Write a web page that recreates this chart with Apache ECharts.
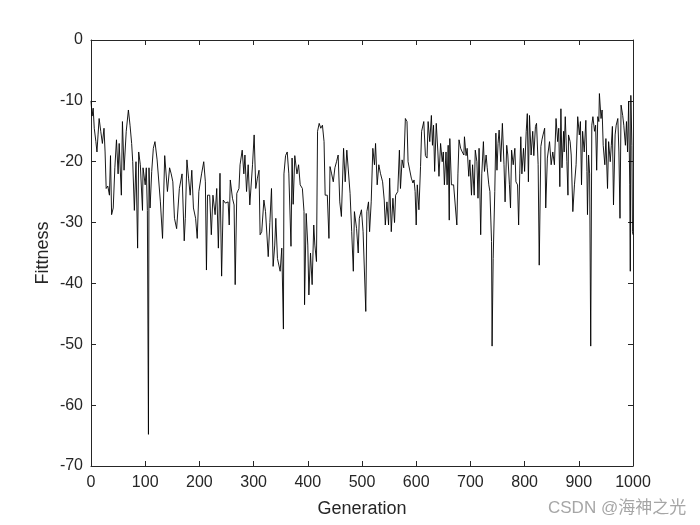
<!DOCTYPE html>
<html>
<head>
<meta charset="utf-8">
<script src="https://cdn.jsdelivr.net/npm/echarts@6/dist/echarts.min.js"></script>
<style>html,body{margin:0;padding:0;background:#fff;}#c{width:700px;height:525px;}</style>
</head>
<body>
<div id="c"></div>
<script>
var generation = [
0,2,4,6,9,11,13,15,18,21,24,26,28,31,34,36,38,41,44,47,50,52,56,58,61,65,69,72,75,77,80,83,86,88,91,95,96,100,102,104,106,107,109,112,115,118,122,125,128,132,136,139,141,145,148,151,154,158,163,
168,172,174,177,180,183,186,189,193,196,199,204,208,211,213,215,219,222,225,229,232,235,238,241,244,248,253,255,257,261,264,266,269,273,275,279,282,284,287,290,293,296,298,301,304,307,310,312,315,319,322,327,330,333,
336,339,341,344,349,352,355,356,359,362,365,369,371,373,376,380,383,386,390,393,394,397,400,402,405,408,411,413,416,418,421,424,427,430,432,436,439,441,444,447,450,453,456,459,462,466,469,472,475,478,481,484,486,490,493,495,499,
502,507,509,512,514,517,520,523,525,528,531,534,538,541,543,546,549,551,554,557,560,562,566,569,571,574,577,580,583,585,588,591,594,596,598,600,602,605,608,610,614,617,620,622,625,628,630,632,634,637,640,642,645,648,650,652,655,657,659,661,662,665,669,672,
675,677,679,682,685,688,689,692,694,697,699,702,704,707,709,712,714,716,719,721,724,726,729,731,734,736,739,740,742,745,747,749,751,753,756,759,762,764,767,769,772,774,776,779,782,784,787,789,791,793,795,798,800,803,805,807,809,812,815,817,820,822,825,827,830,832,834,837,839,842,
846,849,852,855,858,861,863,865,867,869,872,873,875,878,880,881,884,886,889,892,895,898,901,903,905,907,910,913,915,916,918,920,922,924,926,929,931,933,935,937,938,941,943,945,948,950,953,955,958,960,962,964,967,969,972,974,976,978,981,983,986,988,990,992,994,995,996,998,999,1000
];
var fitness = [
-10,-12.5,-11.2,-14.5,-16.7,-18.4,-15.6,-12.9,-15,-17,-14.5,-18.4,-24.4,-24,-25.5,-19,-28.7,-27.6,-21,-16.4,-22,-17,-25.5,-13.4,-21.4,-15,-11.5,-14,-17,-20,-28,-20,-34.2,-18.4,-20.5,-28,-21,-23.8,-21,-28,-64.8,-21,-27.6,-21.6,-17.8,-16.7,-19.7,-20,-26.6,-32.6,-19,-19,-24.9,-21,-22,-23.3,-29.3,-31,-24.4,
-22,-33,-29.3,-19.7,-22.7,-25.5,-21.4,-27.6,-29.3,-32.6,-24.9,-22,-20,-23.3,-37.8,-25.5,-25.5,-32,-25.5,-28.7,-24.4,-34.2,-21.9,-38.8,-26.3,-26.8,-26.6,-30.4,-23,-26,-27.1,-40.2,-25.2,-24.4,-20.5,-18.1,-22,-18.9,-24.9,-20.5,-27.1,-27.4,-20.5,-15.6,-24.4,-22.7,-21.4,-32,-31.5,-26.3,-28.2,-35.6,-30,-24.4,
-37.2,-33.7,-29.3,-35.9,-38,-34.2,-47.5,-22,-19,-18.4,-22,-33.9,-19.4,-27,-19,-22,-20.5,-23.8,-24.4,-28.2,-43.5,-28.5,-33.7,-41.9,-35,-40.2,-30.4,-33.7,-36.4,-15,-13.7,-14.5,-14,-16.7,-25.5,-25.5,-32.6,-20.8,-22,-23.3,-21,-20,-18.9,-26.6,-29,-17.8,-23.3,-18.1,-18.4,-25.2,-31.5,-38,-28.2,-31,-35,-29.3,-27.9,
-31.5,-44.6,-28.2,-26.6,-31.5,-26.6,-17.8,-20.5,-17,-23.8,-20.5,-21.9,-23.3,-26.3,-30.4,-26.6,-30.4,-22.7,-31.5,-26,-30,-25.5,-24.9,-18.1,-24.4,-19.7,-21,-12.9,-13.4,-20,-19.7,-22.7,-23.5,-23,-24.9,-30.4,-23.8,-27.9,-20.8,-15,-13.4,-19,-19.4,-13.4,-16.7,-12.4,-17.3,-14,-21.6,-13.7,-18.4,-22.4,-17,-20,-18.4,-23.8,-18.4,-23.8,-17.3,-29.6,-16.2,-23.8,-23.8,-24.1,
-30.4,-22,-16.4,-17.8,-18.4,-18.9,-15.9,-19,-17.8,-22.4,-19.7,-25.5,-20.5,-25.5,-18.1,-20,-26,-17.8,-32,-22,-16.7,-21.6,-18.9,-21,-23.8,-24.9,-33.1,-50.3,-35.9,-24.9,-15.3,-21.4,-17,-14.8,-20,-13.7,-20.5,-26.6,-17.3,-18.9,-23.8,-27.6,-18.1,-20.5,-17.8,-23.3,-23.8,-30.4,-22,-15.9,-22,-17.8,-21.6,-15,-12.1,-23.3,-12.4,-18.9,-15,-19,-14.2,-13.7,-20.5,-37,-17.5,-16.4,-15.6,-14.5,-27.6,-19.4,
-16.7,-20.5,-18.4,-20.5,-12.9,-16.7,-14.5,-24.1,-11.3,-21,-15,-18.4,-12.6,-20,-25.5,-15.6,-16.7,-18.9,-28.2,-23.8,-20.5,-12.6,-15.6,-13.4,-23.8,-15,-18.4,-13.2,-21.6,-28.7,-18.9,-22,-50.3,-14,-12.6,-15,-14,-21.4,-12.6,-13.4,-8.8,-12.9,-11.5,-17.3,-20.5,-16.2,-24.4,-16.7,-20,-17.3,-14.2,-27.1,-15.6,-14,-12.9,-18.4,-29.3,-10.7,-12.4,-14,-17.3,-13.4,-18.4,-10.1,-23.8,-38,-9.1,-17.3,-31.5,-32
];
var xTicks = {min: 0, max: 1000, step: 100};
var yTicks = {min: -70, max: 0, step: 10};
var xLabel = 'Generation';
var yLabel = 'Fittness';
var watermark = 'CSDN @海神之光';

var FONT = "'Liberation Sans', Arial, Helvetica, sans-serif";
var AX = '#262626';
var pts = generation.map(function (g, i) { return [g, fitness[i]]; });
function plain(v) { return String(v); }

function boxAxis(extra) {
  var base = {
    type: 'value',
    axisLine: {show: true, onZero: false, lineStyle: {color: AX, width: 1}},
    axisTick: {show: true, inside: true, length: 5, lineStyle: {color: AX, width: 1}},
    splitLine: {show: false},
    axisLabel: {show: false}
  };
  for (var k in extra) base[k] = extra[k];
  return base;
}

var chart = echarts.init(document.getElementById('c'), null, {renderer: 'canvas'});
chart.setOption({
  animation: false,
  backgroundColor: '#ffffff',
  grid: {left: 91, right: 67, top: 40, bottom: 59, containLabel: false},
  xAxis: [
    boxAxis({min: xTicks.min, max: xTicks.max, interval: xTicks.step, position: 'bottom',
      axisLabel: {show: true, fontSize: 16, color: AX, fontFamily: FONT, margin: 9, formatter: plain},
      name: xLabel, nameLocation: 'middle', nameGap: 34, nameMoveOverlap: false,
      nameTextStyle: {fontSize: 18, color: AX, fontFamily: FONT}}),
    boxAxis({min: xTicks.min, max: xTicks.max, interval: xTicks.step, position: 'top'})
  ],
  yAxis: [
    boxAxis({min: yTicks.min, max: yTicks.max, interval: yTicks.step, position: 'left',
      axisLabel: {show: true, fontSize: 16, color: AX, fontFamily: FONT, margin: 8, formatter: plain},
      name: yLabel, nameLocation: 'middle', nameGap: 39, nameMoveOverlap: false,
      nameTextStyle: {fontSize: 18, color: AX, fontFamily: FONT}}),
    boxAxis({min: yTicks.min, max: yTicks.max, interval: yTicks.step, position: 'right'})
  ],
  series: [{
    type: 'line',
    xAxisIndex: 0,
    yAxisIndex: 0,
    data: pts,
    showSymbol: false,
    symbol: 'none',
    lineStyle: {color: '#000000', width: 0.9},
    emphasis: {disabled: true}
  }],
  graphic: [{
    type: 'text',
    left: 548,
    top: 500,
    style: {text: watermark, fill: '#a6a6a6', fontSize: 17, fontFamily: "'Liberation Sans', 'Noto Sans CJK SC', sans-serif"}
  }]
});
</script>
</body>
</html>
